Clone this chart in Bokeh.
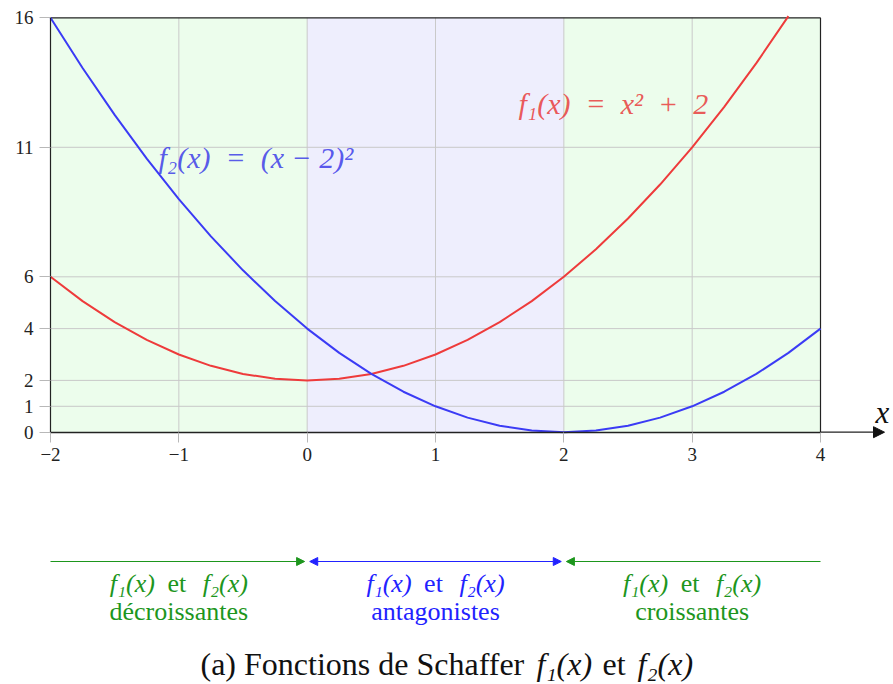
from bokeh.plotting import figure
from bokeh.models import Range1d, FixedTicker, Arrow, NormalHead, ColumnDataSource
from bokeh.embed import file_html
from bokeh.resources import INLINE
from bokeh.core.properties import value

# --- data -------------------------------------------------------------
x_ticks = [-2, -1, 0, 1, 2, 3, 4]
y_ticks = [0, 1, 2, 4, 6, 11, 16]

xs = [-2.0, -1.75, -1.5, -1.25, -1.0, -0.75, -0.5, -0.25, 0.0, 0.25, 0.5,
      0.75, 1.0, 1.25, 1.5, 1.75, 2.0, 2.25, 2.5, 2.75, 3.0, 3.25, 3.5,
      3.75, 4.0]
# f1(x) = x^2 + 2 (shown up to the top of the box)
f1 = [6.0, 5.0625, 4.25, 3.5625, 3.0, 2.5625, 2.25, 2.0625, 2.0, 2.0625,
      2.25, 2.5625, 3.0, 3.5625, 4.25, 5.0625, 6.0, 7.0625, 8.25, 9.5625,
      11.0, 12.5625, 14.25, 16.0625]
# f2(x) = (x - 2)^2
f2 = [16.0, 14.0625, 12.25, 10.5625, 9.0, 7.5625, 6.25, 5.0625, 4.0, 3.0625,
      2.25, 1.5625, 1.0, 0.5625, 0.25, 0.0625, 0.0, 0.0625, 0.25, 0.5625,
      1.0, 1.5625, 2.25, 3.0625, 4.0]

region_start = [-2, 0, 2]
region_end = [0, 2, 4]
region_word = ["décroissantes", "antagonistes", "croissantes"]

# --- page geometry (pixels) -------------------------------------------
W, H = 893, 684
PX_X0, PX_X4 = 50.0, 820.0      # pixel columns of x=-2 and x=4
PX_Y0, PX_Y16 = 431.7, 17.3     # pixel rows of y=0 and y=16
sx = (PX_X4 - PX_X0) / 6.0
sy = (PX_Y0 - PX_Y16) / 16.0


def dx(px):
    return -2.0 + (px - PX_X0) / sx


def dy(py):
    return (PX_Y0 - py) / sy


SERIF = "Liberation Serif"
EN = "\u2002"
GREEN_BG = "#ecfdec"
BLUE_BG = "#eeeefd"
GREEN = "#1d961d"
BLUE = "#2222ff"
RED_LINE = "#ee3b3b"
BLUE_LINE = "#3b3bf5"
GRID = "#c9c9c9"

p = figure(width=W, height=H, x_range=Range1d(dx(0), dx(W)),
           y_range=Range1d(dy(H), dy(0)), output_backend="svg",
           toolbar_location=None, min_border=0)
p.outline_line_color = None
p.grid.visible = False
p.background_fill_color = "white"
p.border_fill_color = "white"

# shaded regions
p.quad(left=region_start, right=region_end, bottom=y_ticks[0], top=y_ticks[-1],
       fill_color=[GREEN_BG, BLUE_BG, GREEN_BG], line_color=None)

# grid lines
inner_x = x_ticks[1:-1]
inner_y = y_ticks[1:-1]
p.segment(x0=inner_x, y0=[y_ticks[0]] * len(inner_x), x1=inner_x,
          y1=[y_ticks[-1]] * len(inner_x), line_color=GRID, line_width=1)
p.segment(x0=[x_ticks[0]] * len(inner_y), y0=inner_y,
          x1=[x_ticks[-1]] * len(inner_y), y1=inner_y,
          line_color=GRID, line_width=1)

# box edges (top and right)
p.line([x_ticks[0], x_ticks[-1]], [y_ticks[-1], y_ticks[-1]],
       line_color="#222222", line_width=1.2)
p.line([x_ticks[-1], x_ticks[-1]], [y_ticks[0], y_ticks[-1]],
       line_color="#222222", line_width=1.2)

# curves
p.line(xs[:len(f1)], f1, line_color=RED_LINE, line_width=2)
p.line(xs, f2, line_color=BLUE_LINE, line_width=2)

# curve labels
p.text(x=[dx(518)], y=[dy(103)], text=[f"f₁(x){EN}={EN}x²{EN}+{EN}2"],
       text_font=value(SERIF), text_font_style="italic", text_font_size="30px",
       text_color="#e83030", text_alpha=0.8, text_baseline="middle",
       text_align="left")
p.text(x=[dx(158)], y=[dy(157)], text=[f"f₂(x){EN}={EN}(x − 2)²"],
       text_font=value(SERIF), text_font_style="italic", text_font_size="30px",
       text_color="#3030e8", text_alpha=0.8, text_baseline="middle",
       text_align="left")

# axes drawn through the data origin
xa = p.xaxis[0]
xa.fixed_location = 0
xa.bounds = (x_ticks[0], x_ticks[-1])
xa.ticker = FixedTicker(ticks=x_ticks, minor_ticks=[])
xa.major_label_overrides = {t: str(t).replace("-", "−") for t in x_ticks}
xa.axis_line_color = "#222222"
xa.axis_line_width = 1.6
xa.major_tick_line_color = "#b8b8b8"
xa.major_tick_in = 0
xa.major_tick_out = 10
xa.minor_tick_line_color = None
xa.major_label_standoff = 6
xa.major_label_text_font = SERIF
xa.major_label_text_font_size = "19px"
xa.major_label_text_color = "#222222"

ya = p.yaxis[0]
ya.fixed_location = x_ticks[0]
ya.bounds = (y_ticks[0], y_ticks[-1])
ya.ticker = FixedTicker(ticks=y_ticks, minor_ticks=[])
ya.axis_line_color = "#222222"
ya.axis_line_width = 1.2
ya.major_tick_line_color = "#b8b8b8"
ya.major_tick_in = 0
ya.major_tick_out = 11
ya.minor_tick_line_color = None
ya.major_label_standoff = 6
ya.major_label_text_font = SERIF
ya.major_label_text_font_size = "19px"
ya.major_label_text_color = "#222222"

# x axis arrow and its name
p.add_layout(Arrow(end=NormalHead(size=11, fill_color="#111111",
                                  line_color="#111111"),
                   x_start=x_ticks[-1], y_start=0, x_end=dx(884), y_end=0,
                   line_color="#222222", line_width=1.2))
p.text(x=[dx(882)], y=[dy(412)], text=["x"], text_font=value(SERIF),
       text_font_style="italic", text_font_size="31px", text_color="#111111",
       text_align="center", text_baseline="middle")

# interval arrows under the chart
gap = 0.02
arrow_y = dy(561)
p.add_layout(Arrow(end=NormalHead(size=8, fill_color=GREEN, line_color=GREEN),
                   x_start=region_start[0], y_start=arrow_y,
                   x_end=region_end[0] - gap, y_end=arrow_y,
                   line_color=GREEN, line_width=1.2))
p.add_layout(Arrow(start=NormalHead(size=8, fill_color=BLUE, line_color=BLUE),
                   end=NormalHead(size=8, fill_color=BLUE, line_color=BLUE),
                   x_start=region_start[1] + gap, y_start=arrow_y,
                   x_end=region_end[1] - gap, y_end=arrow_y,
                   line_color=BLUE, line_width=1.2))
p.add_layout(Arrow(end=NormalHead(size=8, fill_color=GREEN, line_color=GREEN),
                   x_start=region_end[2], y_start=arrow_y,
                   x_end=region_start[2] + gap, y_end=arrow_y,
                   line_color=GREEN, line_width=1.2))

# interval descriptions
colors = [GREEN, BLUE, GREEN]
mids = [(a + b) / 2 for a, b in zip(region_start, region_end)]
n = len(mids)
line1_y = dy(583)
line2_y = dy(611)
src = ColumnDataSource(dict(mid=mids, et_x=[m - 2 / sx for m in mids],
                            left=[m - 46.5 / sx for m in mids],
                            right=[m + 46.5 / sx for m in mids],
                            color=colors, word=region_word,
                            y1=[line1_y] * n, y2=[line2_y] * n,
                            f1=["f₁(x)"] * n, f2=["f₂(x)"] * n, et=["et"] * n))
common = dict(source=src, text_font=value(SERIF), text_font_size="26px",
              text_color="color", text_baseline="middle", text_align="center")
p.text(x="left", y="y1", text="f1", text_font_style="italic", **common)
p.text(x="et_x", y="y1", text="et", **common)
p.text(x="right", y="y1", text="f2", text_font_style="italic", **common)
p.text(x="mid", y="y2", text="word", **common)

# caption: upright words and italic function names
cap_y = dy(663)
cap_common = dict(text_font=value(SERIF), text_font_size="32px",
                  text_color="#111111", text_baseline="middle",
                  text_align="left")
p.text(x=[dx(200), dx(602)], y=[cap_y, cap_y],
       text=["(a) Fonctions de Schaffer", "et"], **cap_common)
p.text(x=[dx(536), dx(637)], y=[cap_y, cap_y], text=["f₁(x)", "f₂(x)"],
       text_font_style="italic", **cap_common)

open("out.html", "w").write(file_html(p, INLINE))
